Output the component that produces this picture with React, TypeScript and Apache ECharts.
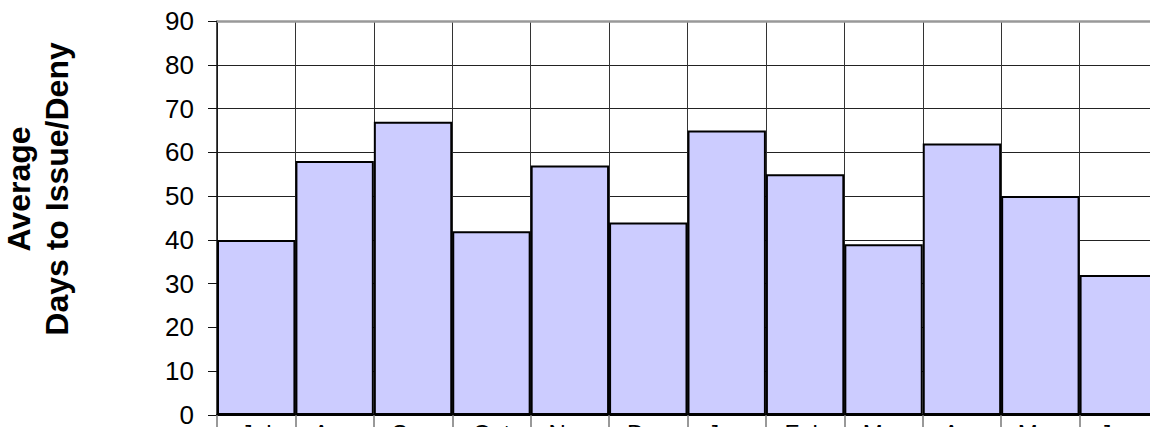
import React, { useEffect, useRef } from "react";
import * as echarts from "echarts";

const categories = ["Jul", "Aug", "Sep", "Oct", "Nov", "Dec", "Jan", "Feb", "Mar", "Apr", "May", "Jun"];
const values = [40, 58, 67, 42, 57, 44, 65, 55, 39, 62, 50, 32];
const yTitle = "Average\nDays to Issue/Deny";

export default function App() {
  const ref = useRef<HTMLDivElement>(null);
  useEffect(() => {
    if (!ref.current) return;
    const chart = echarts.init(ref.current, undefined, { renderer: "svg" });
    chart.setOption({
      animation: false,
      backgroundColor: "#fff",
      textStyle: { fontFamily: "Liberation Sans, Arial, sans-serif" },
      grid: { left: 217, top: 21, right: 42, bottom: 55, containLabel: false },
      xAxis: {
        type: "category",
        data: categories,
        boundaryGap: true,
        axisLine: { show: true, lineStyle: { color: "#000", width: 2 } },
        axisTick: { show: true, length: 20, lineStyle: { color: "#777", width: 1.5 } },
        splitLine: { show: true, lineStyle: { color: "#333", width: 1 } },
        axisLabel: { color: "#000", fontSize: 24, margin: 6 },
      },
      yAxis: {
        type: "value",
        min: 0,
        max: 90,
        interval: 10,
        axisLine: { show: true, lineStyle: { color: "#111", width: 1.5 } },
        axisTick: { show: true, length: 9, lineStyle: { color: "#111", width: 1 } },
        splitLine: { show: true, lineStyle: { color: "#222", width: 1 } },
        axisLabel: { color: "#000", fontSize: 26, margin: 23 },
      },
      graphic: [
        {
          type: "text",
          x: 38,
          y: 189,
          rotation: Math.PI / 2,
          style: {
            text: yTitle,
            fontSize: 32,
            fontWeight: "bold",
            fontFamily: "Liberation Sans, Arial, sans-serif",
            fill: "#000",
            textAlign: "center",
            textVerticalAlign: "middle",
            lineHeight: 38,
          },
        },
      ],
      series: [
        {
          type: "bar",
          data: values,
          barCategoryGap: "0%",
          itemStyle: { color: "#ccccff", borderColor: "#000", borderWidth: 2 },
          markLine: {
            silent: true,
            symbol: "none",
            label: { show: false },
            lineStyle: { color: "#999", width: 2.5, type: "solid" },
            data: [{ yAxis: 90 }],
          },
        },
      ],
    });
    return () => chart.dispose();
  }, []);
  return (
    <div style={{ position: "fixed", left: 0, top: 0, width: 1150, height: 427, overflow: "hidden", background: "#fff" }}>
      <div ref={ref} style={{ width: 1200, height: 470 }} />
    </div>
  );
}
